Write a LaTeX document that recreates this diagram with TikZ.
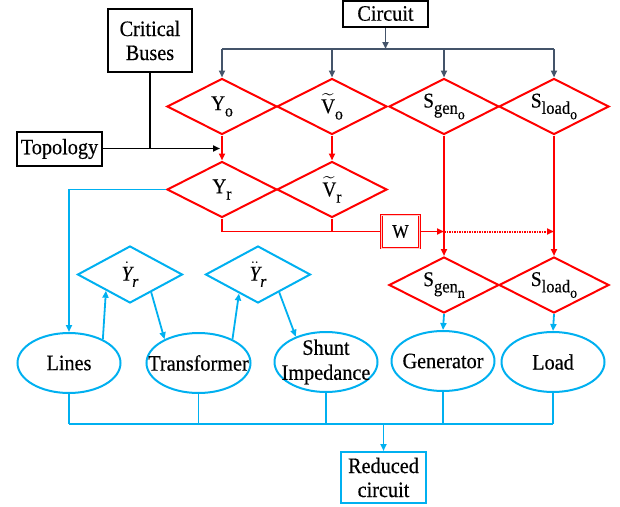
\documentclass[tikz,border=0pt]{standalone}
\usepackage{fontspec}
\usepackage{amsmath}
\setmainfont{Liberation Serif}[FakeStretch=0.92,FakeBold=0.4]
\usetikzlibrary{shapes.geometric,arrows.meta}
\definecolor{myred}{HTML}{FF0000}
\definecolor{myblue}{HTML}{00B0F0}
\definecolor{mygray}{HTML}{44546A}
\newcommand\mysub[2][17]{\raisebox{-0.3em}{\fontsize{#1}{#1}\selectfont #2}}
\begin{document}
\begin{tikzpicture}[x=1pt,y=-1pt,
  font=\fontsize{22}{24}\selectfont,
  tip/.style={-{Triangle[length=7pt,width=6pt]}},
  bbox/.style={draw=black, line width=2pt, inner sep=0pt, align=center},
  rdia/.style={diamond, draw=myred, line width=2pt, aspect=2, inner sep=0pt, minimum width=110pt, minimum height=56pt, font=\fontsize{21}{22}\selectfont},
  bdia/.style={diamond, draw=myblue, line width=2pt, aspect=2, inner sep=0pt, minimum width=105pt, minimum height=57pt, font=\fontsize{21}{22}\selectfont},
  bell/.style={ellipse, draw=myblue, line width=2pt, inner sep=0pt, minimum width=103pt, minimum height=60pt},
  gline/.style={draw=mygray, line width=1.8pt},
  rline/.style={draw=myred, line width=1.8pt},
  bline/.style={draw=myblue, line width=1.8pt},
  lbl/.style={font=\fontsize{22}{25}\selectfont, align=center, inner sep=0pt}
]
\useasboundingbox (0,0) rectangle (620,506);

% boxes
\node[bbox, minimum width=84pt, minimum height=63pt] (crit) at (150,40.5) {Critical\\Buses};
\node[bbox, minimum width=85pt, minimum height=26pt] (circ) at (385.5,13.5) {Circuit};
\node[bbox, minimum width=85pt, minimum height=34pt] (topo) at (59.5,149) {Topology};

% red diamonds
\node[rdia] (Yo) at (222,106.5) {Y\mysub{o}};
\node[rdia] (Vo) at (332,106.5) {$\widetilde{\text{V}}$\mysub{o}};
\node[rdia] (Sgo) at (444,106.5) {S\mysub[18]{gen\mysub[15]{o}}};
\node[rdia] (Slo) at (554,106.5) {S\mysub[18]{load\mysub[15]{o}}};
\node[rdia] (Yr) at (222,189.5) {Y\mysub{r}};
\node[rdia] (Vr) at (332,189.5) {$\widetilde{\text{V}}$\mysub{r}};
\node[rdia] (Sgn) at (444,285) {S\mysub[18]{gen\mysub[15]{n}}};
\node[rdia] (Sln) at (554,285) {S\mysub[18]{load\mysub[15]{o}}};
\node[draw=myred, line width=0.8pt, double=myred!20, double distance=0.9pt, minimum width=38pt, minimum height=33pt, inner sep=0pt, font=\fontsize{19}{20}\selectfont] (W) at (400.5,231.5) {W};

% blue diamonds
\node[bdia] (Yd) at (130,274.5) {$\dot{\textit{Y}}$\mysub{\textit{r}}};
\node[bdia] (Ydd) at (258,274.5) {$\ddot{\textit{Y}}$\mysub{\textit{r}}};

% ellipses
\node[bell, label={[lbl]center:Lines}] (Lines) at (69,363) {};
\node[bell, minimum width=104pt, label={[lbl]center:Transformer}] (Trans) at (198.5,363) {};
\node[bell, label={[lbl]center:Shunt\\Impedance}] (Shunt) at (326,362) {};
\node[bell, label={[lbl]center:Generator}] (Gen) at (443,361) {};
\node[bell, label={[lbl]center:Load}] (Load) at (553,362) {};

\node[draw=myblue, line width=2pt, minimum width=85pt, minimum height=51pt, inner sep=0pt, align=center] (Red) at (383.5,477.5) {Reduced\\circuit};

% gray connectors
\coordinate (gbus) at (385.5,49);
\draw[gline, tip] (circ.south) -- (gbus);
\draw[gline] (Yo.north |- gbus) -- (Slo.north |- gbus);
\draw[gline, tip] (Yo.north |- gbus) -- (Yo.north);
\draw[gline, tip] (Vo.north |- gbus) -- (Vo.north);
\draw[gline, tip] (Sgo.north |- gbus) -- (Sgo.north);
\draw[gline, tip] (Slo.north |- gbus) -- (Slo.north);

% black connectors
\coordinate (tend) at (220,148.5);
\draw[black, line width=1.8pt, tip] (topo.east |- tend) -- (tend);
\draw[black, line width=1.8pt] (crit.south) -- (crit.south |- tend);

% red connectors
\draw[rline, tip] (Yo.south) -- (Yr.north);
\draw[rline, tip] (Vo.south) -- (Vr.north);
\draw[rline] (Yr.south) |- (W.west);
\draw[rline] (Vr.south) -- (Vr.south |- W.west);
\coordinate (jg) at (Sgo.south |- W.east);
\coordinate (jl) at (Slo.south |- W.east);
\draw[rline, tip] (W.east) -- (jg);
\draw[draw=myred, line width=2pt, dash pattern=on 1.5pt off 1pt, tip] (jg) -- (jl);
\draw[draw=myred, line width=2.2pt, tip] (Sgo.south) -- (Sgn.north);
\draw[draw=myred, line width=2.2pt, tip] (Slo.south) -- (Sln.north);

% blue connectors
\draw[bline, tip] (Yr.west) -| (Lines.north);
\draw[bline, tip] (Lines.35) -- (Yd.214);
\draw[bline, tip] (Yd.-40) -- (Trans.145);
\draw[bline, tip] (Trans.35) -- (Ydd.225);
\draw[bline, tip] (Ydd.-40) -- (Shunt.140);
\draw[bline, tip] (Sgn.south) -- (Gen.north);
\draw[bline, tip] (Sln.south) -- (Load.north);

\coordinate (bbus) at (383.5,424);
\foreach \n in {Lines,Trans,Shunt,Gen,Load}
  \draw[bline] (\n.south) -- (\n.south |- bbus);
\draw[bline] (Lines.south |- bbus) -- (Load.south |- bbus);
\draw[bline, tip] (bbus) -- (Red.north);
\end{tikzpicture}
\end{document}
